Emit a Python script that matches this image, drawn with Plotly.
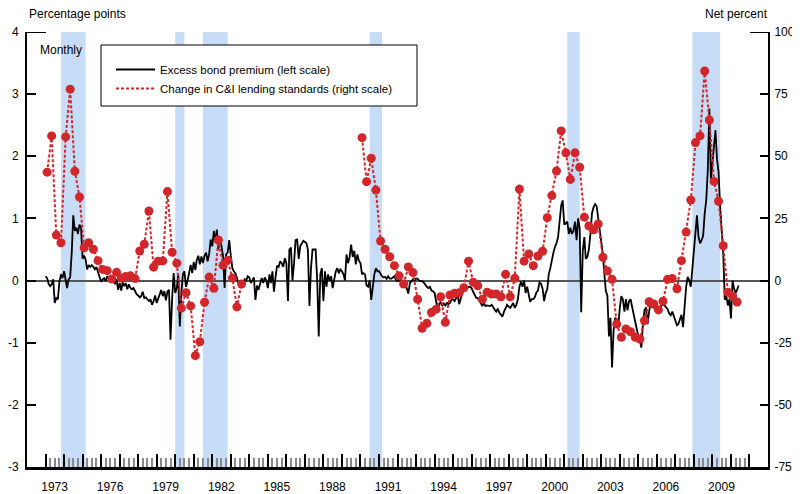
import pandas as pd
import plotly.graph_objects as go

# ---------------- data ----------------
ebp_start = "1973-01-01"  # monthly, excess bond premium (percentage points)
ebp_values = [
    0.07, 0.04, -0.05, -0.09, -0.06, 0.02, -0.36, -0.28, -0.30, -0.02, 0.10, 0.04,
    0.15, 0.02, -0.12, 0.02, 0.05, 0.45, 1.05, 0.80, 0.85, 0.75, 0.90, 0.85,
    0.35, 0.40, 0.34, 0.18, 0.25, 0.22, 0.25, 0.22, 0.18, 0.22, 0.15, 0.08,
    -0.02, 0.02, 0.04, -0.01, 0.07, 0.03, 0.03, -0.01, 0.03, -0.06, 0.02, -0.15,
    -0.04, -0.16, -0.03, -0.09, -0.04, -0.14, -0.06, -0.12, -0.14, -0.12, -0.17, -0.22,
    -0.24, -0.27, -0.25, -0.18, -0.28, -0.27, -0.30, -0.33, -0.30, -0.39, -0.33, -0.24,
    -0.36, -0.29, -0.23, -0.15, -0.25, -0.17, -0.32, -0.18, -0.15, -0.95, -0.30, 0.12,
    -0.20, -0.12, 0.10, -0.74, -0.20, 0.10, 0.15, -0.10, 0.00, 0.10, 0.25, 0.12,
    0.30, 0.17, 0.33, 0.40, 0.26, 0.39, 0.28, 0.40, 0.45, 0.31, 0.43, 0.66,
    0.55, 0.80, 0.62, 0.82, 0.50, 0.70, 0.55, 0.40, -0.12, 0.42, 0.45, 0.65,
    0.40, 0.20, 0.15, 0.12, 0.05, -0.05, 0.00, -0.04, -0.08, 0.02, 0.00, 0.07,
    0.05, -0.04, 0.00, 0.05, -0.31, -0.08, -0.15, -0.05, 0.04, -0.04, 0.05, 0.00,
    -0.12, 0.10, -0.04, 0.15, -0.18, 0.05, 0.24, 0.22, 0.31, 0.28, 0.22, 0.36,
    0.28, -0.33, 0.50, 0.53, 0.00, 0.28, 0.65, 0.66, 0.35, 0.55, 0.60, 0.64,
    0.62, 0.60, 0.50, -0.41, 0.20, 0.50, 0.50, 0.50, 0.00, -0.90, 0.10, 0.20,
    -0.33, 0.15, -0.10, 0.10, 0.00, 0.07, -0.12, 0.04, 0.15, 0.20, 0.12, 0.18,
    0.15, 0.10, 0.00, 0.42, 0.28, 0.38, 0.58, 0.38, 0.48, 0.26, 0.42, 0.32,
    0.28, 0.10, 0.12, 0.10, -0.08, -0.10, 0.00, -0.31, -0.06, 0.10, 0.20, 0.15,
    0.15, 0.10, 0.07, 0.05, 0.06, 0.03, 0.07, 0.03, 0.03, 0.05, 0.07, 0.01,
    -0.01, 0.00, 0.02, -0.02, -0.07, -0.11, -0.12, -0.21, -0.04, 0.00, 0.02, 0.00,
    0.03, 0.03, 0.00, -0.01, -0.01, -0.03, -0.07, -0.10, -0.12, -0.10, -0.16, -0.17,
    -0.20, -0.33, -0.46, -0.39, -0.34, -0.41, -0.37, -0.40, -0.36, -0.38, -0.36, -0.31,
    -0.30, -0.33, -0.28, -0.23, -0.38, -0.28, -0.20, -0.17, -0.15, -0.12, -0.10, -0.10,
    -0.12, -0.18, -0.23, -0.28, -0.28, -0.33, -0.38, -0.41, -0.36, -0.41, -0.40, -0.40,
    -0.41, -0.39, -0.44, -0.47, -0.50, -0.45, -0.52, -0.55, -0.58, -0.50, -0.44, -0.39,
    -0.42, -0.44, -0.40, -0.36, -0.44, -0.39, -0.30, -0.10, -0.02, -0.10, 0.00, -0.20,
    -0.10, -0.25, -0.34, -0.30, -0.30, -0.27, -0.19, -0.16, -0.03, -0.05, -0.13, -0.33,
    -0.20, -0.14, 0.10, 0.20, 0.35, 0.45, 0.54, 0.60, 0.70, 0.91, 1.21, 1.29,
    0.90, 0.92, 0.95, 0.75, 0.85, 0.75, 0.80, 0.95, 0.65, 1.00, 0.85, -0.51,
    0.48, 0.70, 0.35, 0.38, 0.50, 0.75, 1.08, 1.18, 1.23, 1.20, 1.00, 0.75,
    0.55, 0.43, 0.12, -0.17, -0.24, -0.90, -0.60, -1.40, -0.80, -0.60, -0.62, -0.75,
    -0.44, -0.25, -0.30, -0.50, -0.30, -0.48, -0.33, -0.30, -0.43, -0.55, -0.70, -0.80,
    -0.90, -0.97, -1.08, -0.70, -0.48, -0.43, -0.70, -0.50, -0.35, -0.43, -0.42, -0.48,
    -0.40, -0.46, -0.48, -0.40, -0.38, -0.40, -0.43, -0.46, -0.53, -0.56, -0.50, -0.58,
    -0.65, -0.72, -0.70, -0.60, -0.55, -0.75, -0.40, -0.10, 0.06, 0.00, -0.10, 0.20,
    0.45, 0.75, 1.05, 0.70, 0.60, 0.65, 0.72, 1.08, 1.30, 1.78, 2.77, 1.62,
    1.90, 2.25, 2.42, 1.95, 1.75, 1.19, 0.80, 0.44, -0.31, -0.25, -0.40, -0.30,
    -0.61, 0.00, -0.12, -0.20, -0.15, -0.08,
]

# quarterly, net percent of banks tightening C&I standards
lending_start_1 = "1973-02-01"
lending_1973_1983 = [
    43.6, 58.2, 18.3, 15.2, 57.8, 77.0, 44.0, 33.6, 13.2, 15.2, 12.6, 8.0,
    4.5, 4.0, 0.6, 3.3, 1.0, 1.6, 1.9, 0.8, 11.9, 14.6, 28.0, 5.4,
    7.8, 7.9, 35.8, 11.4, 7.0, -11.1, -4.9, -10.2, -30.2, -24.6, -8.7, 1.4,
    -3.1, 16.3, 6.2, 8.2, 1.0, -10.6, -1.4,
]
lending_start_2 = "1990-02-01"
lending_1990_2010 = [
    57.5, 39.8, 49.2, 36.4, 15.9, 12.6, 9.6, 6.0, 1.9, -1.4, 5.5, 3.2,
    -7.5, -19.2, -17.2, -12.8, -11.5, -6.5, -16.8, -5.8, -5.1, -4.9, -2.9, 7.8,
    -0.7, -2.1, -7.5, -4.7, -5.4, -5.4, -6.5, 2.5, -6.5, 0.9, 36.8, 7.8,
    10.7, 6.0, 9.9, 11.8, 25.3, 34.2, 44.1, 60.2, 51.4, 40.7, 51.4, 45.6,
    25.5, 22.0, 20.4, 22.8, 9.4, 3.9, 0.5, -17.5, -22.8, -19.5, -20.6, -22.8,
    -23.5, -16.1, -8.5, -9.4, -11.8, -8.3, 0.5, 0.8, -3.3, 8.0, 19.5, 32.4,
    55.5, 58.2, 84.3, 64.6, 39.9, 31.9, 14.0, -4.7, -6.2, -8.6,
]

recession_starts = ["1973-11-01", "1980-01-01", "1981-07-01", "1990-07-01", "2001-03-01", "2007-12-01"]
recession_ends = ["1975-03-01", "1980-07-01", "1982-11-01", "1991-03-01", "2001-11-01", "2009-06-01"]

tick_years = list(range(1973, 2012))
label_years = list(range(1973, 2010, 3))
left_ticks = [-3, -2, -1, 0, 1, 2, 3, 4]
right_ticks = [-75, -50, -25, 0, 25, 50, 75, 100]

# ---------------- figure ----------------
FONT = "Liberation Sans, Arial, Helvetica, sans-serif"
RED = "#d3262b"
SHADE = "#c7dcf7"

ebp_dates = pd.date_range(ebp_start, periods=len(ebp_values), freq="MS")
d1 = pd.date_range(lending_start_1, periods=len(lending_1973_1983), freq="3MS")
d2 = pd.date_range(lending_start_2, periods=len(lending_1990_2010), freq="3MS")
lend_x = list(d1) + [None] + list(d2)
lend_y = lending_1973_1983 + [None] + lending_1990_2010

fig = go.Figure()

fig.add_trace(go.Scatter(
    x=ebp_dates, y=ebp_values, mode="lines",
    line=dict(color="black", width=1.8), showlegend=False,
    name="Excess bond premium (left scale)",
))
fig.add_trace(go.Scatter(
    x=lend_x, y=lend_y, mode="lines+markers", yaxis="y2",
    line=dict(color=RED, width=2, dash="3px,2px"),
    marker=dict(color=RED, size=9),
    connectgaps=False, showlegend=False,
    name="Change in C&I lending standards (right scale)",
))
# legend entries
fig.add_trace(go.Scatter(
    x=[None], y=[None], mode="lines", line=dict(color="black", width=2),
    name="Excess bond premium (left scale)",
))
fig.add_trace(go.Scatter(
    x=[None], y=[None], mode="lines", yaxis="y2",
    line=dict(color=RED, width=2, dash="3px,2px"),
    name="Change in C&I lending standards (right scale)",
))

PW, PH = 741.0, 435.0   # plot area size in px
shapes = []
for s, e in zip(recession_starts, recession_ends):
    shapes.append(dict(type="rect", xref="x", yref="paper", x0=s, x1=e, y0=0, y1=1,
                       fillcolor=SHADE, line=dict(width=0), layer="below"))
# legend box
shapes.append(dict(type="rect", xref="paper", yref="paper",
                   x0=(101 - 27) / PW, x1=(417 - 27) / PW,
                   y0=1 - (106 - 32) / PH, y1=1 - (45 - 32) / PH,
                   fillcolor="white", line=dict(color="black", width=1), layer="above"))
# longer top ticks
shapes.append(dict(type="line", xref="paper", yref="y", x0=0, x1=19 / PW, y0=4, y1=4,
                   line=dict(color="black", width=2)))
shapes.append(dict(type="line", xref="paper", yref="y2", x0=1 - 18 / PW, x1=1, y0=100, y1=100,
                   line=dict(color="black", width=2)))

minor_vals = [f"{y}-{m:02d}-01" for y in range(1973, 2011) for m in (4, 7, 10)]

fig.update_layout(
    width=792, height=486,
    margin=dict(l=19, r=32, t=24, b=27, pad=0),
    paper_bgcolor="white", plot_bgcolor="white",
    font=dict(family=FONT, size=12, color="black"),
    shapes=shapes,
    showlegend=True,
    legend=dict(x=84 / PW, y=1 - (55 - 32) / PH, xanchor="left", yanchor="top",
                bgcolor="rgba(0,0,0,0)", borderwidth=0, font=dict(size=11.5, family=FONT),
                itemwidth=39, tracegroupgap=0),
    xaxis=dict(
        type="date", range=["1972-01-01", "2012-01-01"], automargin=False,
        tickmode="array",
        tickvals=[f"{y}-01-01" for y in tick_years],
        ticktext=[str(y) if y in label_years else "" for y in tick_years],
        ticks="inside", ticklen=13, tickwidth=1.5, tickcolor="black",
        ticklabelshift=9, ticklabelstandoff=7,
        minor=dict(tickmode="array", tickvals=minor_vals, ticks="inside",
                   ticklen=9, tickwidth=1.5, tickcolor="#8a8a8a", showgrid=False),
        showline=True, linecolor="black", linewidth=2.5,
        showgrid=False, zeroline=False,
    ),
    yaxis=dict(
        range=[-3, 4], tickmode="array", tickvals=left_ticks, automargin=False,
        ticktext=[str(v) for v in left_ticks],
        ticks="inside", ticklen=9, tickwidth=2, tickcolor="black",
        ticklabelstandoff=4,
        showline=True, linecolor="black", linewidth=2,
        showgrid=False, zeroline=True, zerolinecolor="#555555", zerolinewidth=1.5,
    ),
    yaxis2=dict(
        range=[-75, 100], overlaying="y", side="right", automargin=False,
        tickmode="array", tickvals=right_ticks, ticktext=[str(v) for v in right_ticks],
        ticks="inside", ticklen=8, tickwidth=2, tickcolor="black",
        ticklabelstandoff=2,
        showline=True, linecolor="black", linewidth=2,
        showgrid=False, zeroline=False,
    ),
    annotations=[
        dict(text="Percentage points", xref="paper", yref="paper", x=0, y=1 + 18 / PH,
             xanchor="left", yanchor="middle", showarrow=False, font=dict(size=12)),
        dict(text="Net percent", xref="paper", yref="paper", x=1 + 2 / PW, y=1 + 18 / PH,
             xanchor="right", yanchor="middle", showarrow=False, font=dict(size=12)),
        dict(text="Monthly", xref="paper", yref="paper", x=(38 - 27) / PW, y=1 - (50 - 32) / PH,
             xanchor="left", yanchor="middle", showarrow=False, font=dict(size=12)),
    ],
)

fig.write_html("out.html")
